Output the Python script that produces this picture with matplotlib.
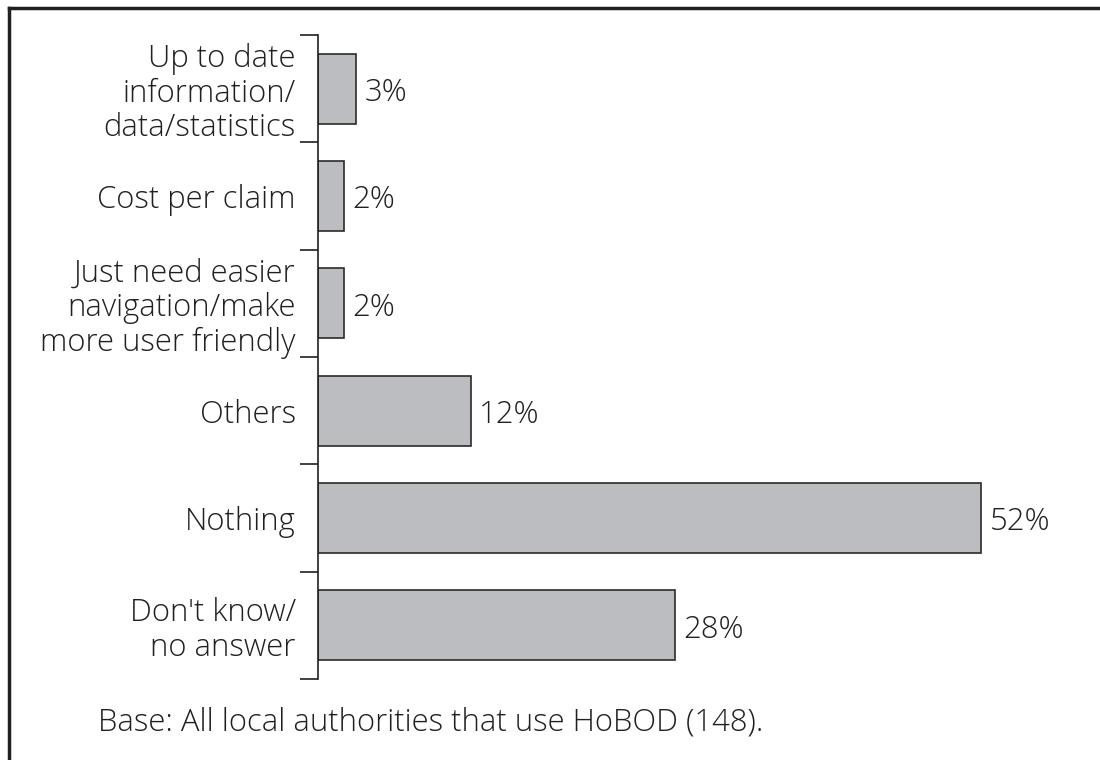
# Horizontal bar chart: what would improve HoBOD
import matplotlib.pyplot as plt
from matplotlib.lines import Line2D

categories = ['Up to date\ninformation/\ndata/statistics',
              'Cost per claim',
              'Just need easier\nnavigation/make\nmore user friendly',
              'Others',
              'Nothing',
              "Don't know/\nno answer"]
values = [3, 2, 2, 12, 52, 28]
footnote = 'Base: All local authorities that use HoBOD (148).'

plt.rcParams['font.family'] = ['Open Sans', 'DejaVu Sans']
plt.rcParams['font.weight'] = 'light'
ink = '#231f20'
fs = 22.3

fig = plt.figure(figsize=(11, 7.6), dpi=100)
ax = fig.add_axes([318/1100, 1 - 679/760, 1 - 318/1100, (679 - 35)/760])

pos = list(range(len(categories)))
ax.barh(pos, values, height=0.65, color='#bcbdc0', edgecolor='#2b2b2b', linewidth=1.2)

ax.set_xlim(0, (1100 - 318) / 12.75)
ax.set_ylim(len(categories) - 0.5, -0.5)

for p, v in zip(pos, values):
    ax.annotate(f'{v}%', xy=(v, p), xytext=(6, -3), textcoords='offset points',
                va='center', ha='left', fontsize=fs, color=ink)

# category labels sit between the boundary ticks
ax.set_yticks([p - 0.5 for p in pos] + [len(pos) - 0.5])
ax.set_yticklabels([])
ax.set_yticks(pos, minor=True)
ax.set_yticklabels(categories, minor=True, fontsize=fs, color=ink,
                   linespacing=1.1)
ax.tick_params(axis='y', which='major', length=13, width=1.2, color=ink)
ax.tick_params(axis='y', which='minor', length=0, pad=16)
ax.set_xticks([])

for s in ['top', 'right', 'bottom']:
    ax.spines[s].set_visible(False)
ax.spines['left'].set_linewidth(1.2)
ax.spines['left'].set_color(ink)

fig.text(98/1100, 1 - 722/760, footnote, fontsize=fs, color=ink,
         ha='left', va='center')

# outer frame (top and left edges)
fig.add_artist(Line2D([9/1100, 1], [1 - 8/760, 1 - 8/760], transform=fig.transFigure,
                      color=ink, linewidth=2.5))
fig.add_artist(Line2D([9/1100, 9/1100], [0, 1 - 8/760], transform=fig.transFigure,
                      color=ink, linewidth=2.5))

fig.savefig('out.png', dpi=100)
